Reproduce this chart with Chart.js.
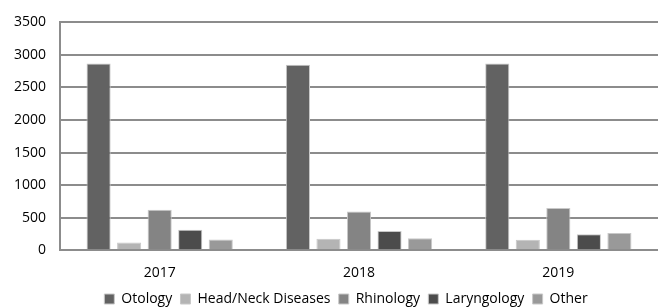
<!DOCTYPE html>
<html>
<head>
<meta charset="utf-8">
<script src="https://cdn.jsdelivr.net/npm/chart.js@4.4.0/dist/chart.umd.min.js"></script>
<style>
  html, body { margin: 0; padding: 0; background: #fff; }
  #wrap { width: 662px; height: 307px; }
</style>
</head>
<body>
<div id="wrap"><canvas id="chart"></canvas></div>
<script>
var years = ['2017', '2018', '2019'];
var otology = [2870, 2850, 2870];
var headNeck = [120, 177, 162];
var rhinology = [622, 596, 647];
var laryngology = [316, 295, 245];
var other = [163, 183, 265];
var yTicks = [0, 500, 1000, 1500, 2000, 2500, 3000, 3500];

function series(label, values, color) {
    return {
        label: label,
        data: values,
        backgroundColor: color,
        borderColor: '#c8c8c8',
        borderWidth: 1,
        barPercentage: 0.79,
        categoryPercentage: 0.766
    };
}

// nudge the legend right and down, like the original
var legendShift = {
    id: 'legendShift',
    afterLayout: function(chart) {
        var lg = chart.legend;
        lg.left += 17;
        lg.right += 17;
        lg.top += 4;
        lg.bottom += 4;
    }
};

var ctx = document.getElementById('chart').getContext('2d');
var chart = new Chart(ctx, {
    type: 'bar',
    data: {
        labels: years,
        datasets: [
            series('Otology', otology, '#626262'),
            series('Head/Neck Diseases', headNeck, '#b4b4b4'),
            series('Rhinology', rhinology, '#848484'),
            series('Laryngology', laryngology, '#4c4c4c'),
            series('Other', other, '#999999')
        ]
    },
    plugins: [legendShift],
    options: {
        responsive: true,
        maintainAspectRatio: false,
        animation: false,
        layout: { padding: { left: 0, right: 4, top: 10, bottom: -5 } },
        plugins: {
            tooltip: { enabled: false },
            legend: {
                position: 'bottom',
                labels: {
                    boxWidth: 10,
                    boxHeight: 10,
                    padding: 1,
                    color: '#000',
                    font: { family: 'Open Sans', size: 14 },
                    generateLabels: function(chart) {
                        var items = Chart.defaults.plugins.legend.labels.generateLabels(chart);
                        items.forEach(function(it, i) {
                            if (i < items.length - 1) it.text = it.text + '  ';
                        });
                        return items;
                    }
                }
            }
        },
        scales: {
            x: {
                grid: { display: false },
                border: { display: false },
                ticks: {
                    color: '#000',
                    padding: 6,
                    font: { family: 'Open Sans', size: 14 }
                }
            },
            y: {
                min: 0,
                max: 3500,
                afterBuildTicks: function(axis) {
                    axis.ticks = yTicks.map(function(v) { return { value: v }; });
                },
                grid: { color: '#8c8c8c', lineWidth: 2, drawTicks: false },
                border: { display: true, color: '#8c8c8c', width: 2 },
                ticks: {
                    color: '#000',
                    padding: 14,
                    font: { family: 'Open Sans', size: 14 },
                    callback: function(v) { return String(v); }
                }
            }
        }
    }
});
</script>
</body>
</html>
